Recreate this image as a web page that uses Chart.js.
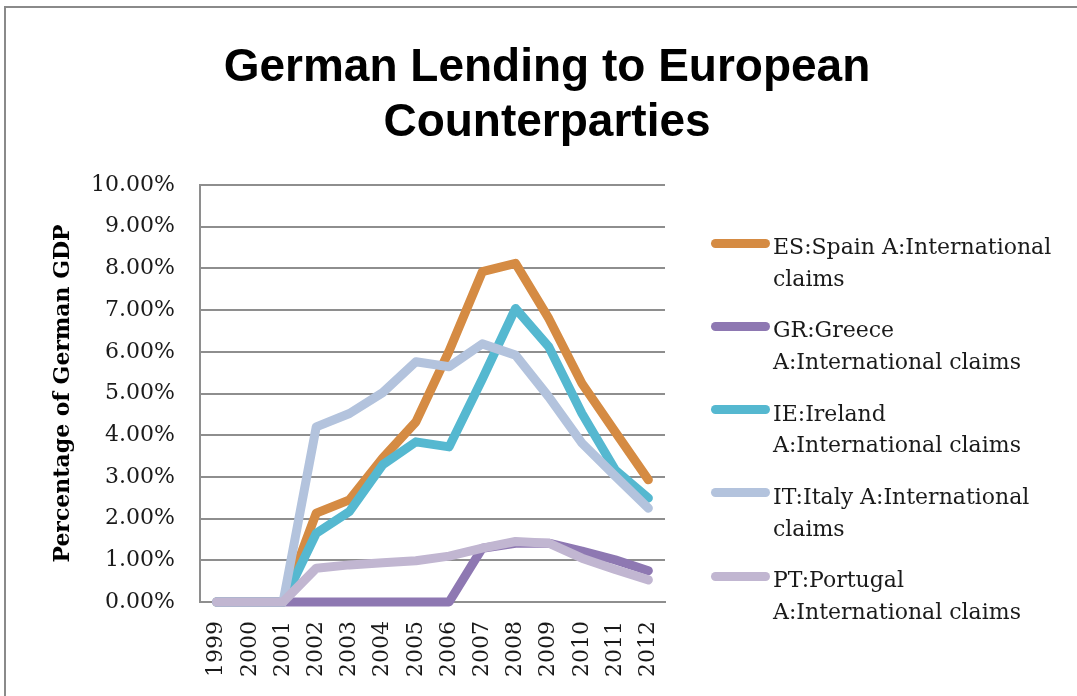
<!DOCTYPE html>
<html>
<head>
<meta charset="utf-8">
<script src="https://cdn.jsdelivr.net/npm/chart.js@4/dist/chart.umd.min.js"></script>
<style>
  html, body { margin: 0; padding: 0; background: #fff; }
  #wrap { position: relative; width: 1077px; height: 696px; overflow: hidden; }
  #frame { position: absolute; left: 4px; top: 6px; width: 1080px; height: 700px;
           border-top: 2px solid #8a8a8a; border-left: 2px solid #8a8a8a; }
  #title { position: absolute; left: 0; width: 1094px; top: 38px; text-align: center;
           font-family: "Liberation Sans", Arial, sans-serif; font-weight: bold; font-size: 46px;
           line-height: 55px; color: #000; white-space: nowrap; }
  #legend { position: absolute; left: 711px; top: 231px; font-family: "DejaVu Serif", serif;
            font-size: 22px; line-height: 31.7px; color: #1a1a1a; }
  .item { position: relative; height: 63.4px; margin-bottom: 19.9px; padding-left: 62px; white-space: nowrap; }
  .mark { position: absolute; left: 0; top: 7.5px; width: 59px; height: 9px; border-radius: 5px; }
</style>
</head>
<body>
<div id="wrap">
  <div id="frame"></div>
  <canvas id="lendingChart" width="1077" height="696"></canvas>
  <div id="title"></div>
  <div id="legend"></div>
</div>
<script>
// German lending, % of German GDP
const titleLines = ["German Lending to European", "Counterparties"];
const years = ["1999","2000","2001","2002","2003","2004","2005","2006","2007","2008","2009","2010","2011","2012"];

const spain    = [0, 0, 0, 2.13, 2.45, 3.45, 4.32, 6.02, 7.92, 8.12, 6.80, 5.24, 4.08, 2.93];
const greece   = [0, 0, 0, 0, 0, 0, 0, 0, 1.29, 1.41, 1.41, 1.22, 1.01, 0.75];
const ireland  = [0, 0, 0, 1.65, 2.17, 3.29, 3.84, 3.72, 5.35, 7.04, 6.12, 4.52, 3.17, 2.49];
const italy    = [0, 0, 0, 4.20, 4.52, 5.02, 5.76, 5.64, 6.19, 5.92, 4.92, 3.81, 3.02, 2.25];
const portugal = [0, 0, 0, 0.81, 0.89, 0.94, 0.99, 1.10, 1.29, 1.45, 1.41, 1.05, 0.78, 0.53];

const seriesNames = ["ES:Spain A:International claims", "GR:Greece A:International claims",
  "IE:Ireland A:International claims", "IT:Italy A:International claims", "PT:Portugal A:International claims"];
const legendLines = [["ES:Spain A:International", "claims"], ["GR:Greece", "A:International claims"],
  ["IE:Ireland", "A:International claims"], ["IT:Italy A:International", "claims"], ["PT:Portugal", "A:International claims"]];
const seriesValues = [spain, greece, ireland, italy, portugal];
const colors = ["#d58b43", "#8e78b2", "#55b8d0", "#b3c3dd", "#c1b6d1"];

const yTicks = [0, 1, 2, 3, 4, 5, 6, 7, 8, 9, 10];

const serif = "'DejaVu Serif', serif";
const gridGray = "#8e8e8e";

const datasets = seriesValues.map((vals, i) => ({
  label: seriesNames[i],
  data: vals,
  borderColor: colors[i],
  backgroundColor: colors[i],
  borderWidth: 9,
  pointRadius: 0,
  tension: 0,
  borderJoinStyle: "round",
  borderCapStyle: "round",
  clip: false,
  order: seriesValues.length - i   // later series drawn on top, like the original
}));

const ctx = document.getElementById("lendingChart").getContext("2d");
new Chart(ctx, {
  type: "line",
  data: { labels: years, datasets: datasets },
  options: {
    responsive: false,
    animation: false,
    layout: { padding: { left: 0, right: 412, top: 185, bottom: 0 } },
    plugins: {
      legend: { display: false },
      tooltip: { enabled: false },
      title: { display: false }
    },
    scales: {
      x: {
        offset: true,
        grid: { display: false, drawTicks: false },
        border: { display: true, color: gridGray, width: 2 },
        ticks: {
          color: "#1a1a1a", font: { family: serif, size: 22 },
          minRotation: 90, maxRotation: 90, padding: 19, autoSkip: false
        },
        afterFit: (scale) => { scale.height = 94; }
      },
      y: {
        min: 0, max: 10,
        afterBuildTicks: (scale) => { scale.ticks = yTicks.map(v => ({ value: v })); },
        grid: { color: gridGray, lineWidth: 2, drawTicks: false },
        border: { display: true, color: gridGray, width: 2 },
        ticks: {
          color: "#1a1a1a", font: { family: serif, size: 22 }, padding: 25,
          callback: (v) => v.toFixed(2) + "%"
        },
        title: {
          display: true,
          text: "Percentage of German GDP",
          color: "#000",
          font: { family: serif, size: 22, weight: "bold", lineHeight: 1.2 },
          padding: { top: 50, bottom: 0 }
        },
        afterFit: (scale) => { scale.width = 200; }
      }
    }
  }
});

// title and legend as page text
const title = document.getElementById("title");
titleLines.forEach((t, j) => {
  if (j > 0) title.appendChild(document.createElement("br"));
  title.appendChild(document.createTextNode(t));
});

const legend = document.getElementById("legend");
legendLines.forEach((lines, i) => {
  const item = document.createElement("div");
  item.className = "item";
  const mark = document.createElement("span");
  mark.className = "mark";
  mark.style.background = colors[i];
  item.appendChild(mark);
  lines.forEach((t, j) => {
    if (j > 0) item.appendChild(document.createElement("br"));
    item.appendChild(document.createTextNode(t));
  });
  legend.appendChild(item);
});
</script>
</body>
</html>
